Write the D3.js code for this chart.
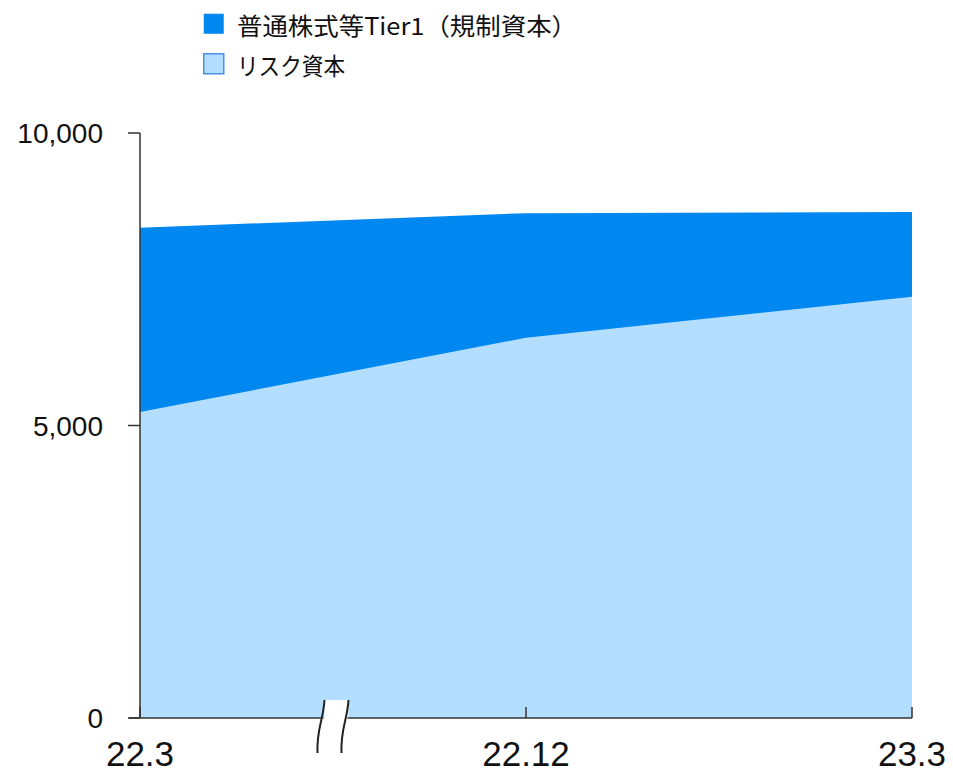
<!DOCTYPE html>
<html>
<head>
<meta charset="utf-8">
<script src="https://cdn.jsdelivr.net/npm/d3@7"></script>
<style>
body { margin: 0; background: #fff; }
svg { display: block; }
</style>
</head>
<body>
<svg id="chart"></svg>
<script>
// Periods on the x axis
var periods = ["22.3", "22.12", "23.3"];
// 普通株式等Tier1 (規制資本)
var tier1 = [8380, 8630, 8650];
// リスク資本
var riskCapital = [5230, 6500, 7200];
// y axis ticks
var yTicks = [0, 5000, 10000];

var seriesNames = ["普通株式等Tier1（規制資本）", "リスク資本"];
var seriesColors = ["#0088f0", "#b3deff"];

var screen = {width: 953, height: 772};
var margins = {top: 133, bottom: 54, left: 140, right: 41};
var graph = {
    width: screen.width - margins.left - margins.right,
    height: screen.height - margins.top - margins.bottom
};

var svg = d3.select("#chart")
    .attr("width", screen.width)
    .attr("height", screen.height);

var xScale = d3.scalePoint()
    .domain(periods)
    .range([0, graph.width])
    .padding(0);

var yScale = d3.scaleLinear()
    .domain([0, 10000])
    .range([graph.height, 0]);

var g = svg.append("g")
    .attr("transform", "translate(" + margins.left + "," + margins.top + ")");

// Draw an area from the baseline up to each value
var drawArea = function(values, color) {
    var area = d3.area()
        .x(function(d, i) { return xScale(periods[i]); })
        .y0(yScale(0))
        .y1(function(d) { return yScale(d); });
    g.append("path")
        .datum(values)
        .attr("d", area)
        .attr("fill", color);
};

drawArea(tier1, seriesColors[0]);
drawArea(riskCapital, seriesColors[1]);

// break mark between 22.3 and 22.12
var bx = xScale(periods[0]) + (xScale(periods[1]) - xScale(periods[0])) * 0.509;
var by = graph.height;
g.append("rect")
    .attr("x", bx - 12)
    .attr("y", by - 18)
    .attr("width", 24)
    .attr("height", 34)
    .attr("fill", "#fff");
[-12, 12].forEach(function(dx) {
    g.append("path")
        .attr("d", "M" + (bx + dx) + "," + (by - 18) +
            " C" + (bx + dx - 1) + "," + (by + 2) + " " +
            (bx + dx - 8) + "," + (by + 10) + " " +
            (bx + dx - 7) + "," + (by + 35))
        .attr("fill", "none")
        .attr("stroke", "#222")
        .attr("stroke-width", 2);
});

// x axis line, drawn in two pieces around the break
var axisColor = "#333";
g.append("line")
    .attr("x1", -11).attr("x2", bx - 13)
    .attr("y1", by).attr("y2", by)
    .attr("stroke", axisColor).attr("stroke-width", 1.5);
g.append("line")
    .attr("x1", bx + 11).attr("x2", graph.width)
    .attr("y1", by).attr("y2", by)
    .attr("stroke", axisColor).attr("stroke-width", 1.5);

// x ticks pointing up
g.selectAll(".xtick")
    .data(periods)
    .enter()
    .append("line")
    .attr("x1", function(d) { return xScale(d); })
    .attr("x2", function(d) { return xScale(d); })
    .attr("y1", by)
    .attr("y2", by - 11)
    .attr("stroke", axisColor)
    .attr("stroke-width", 1.5);

// x labels
g.selectAll(".xlabel")
    .data(periods)
    .enter()
    .append("text")
    .attr("x", function(d) { return xScale(d); })
    .attr("y", by + 48)
    .attr("text-anchor", "middle")
    .attr("font-family", "'Liberation Sans', Arial, sans-serif")
    .attr("font-size", 35)
    .attr("fill", "#111")
    .text(function(d) { return d; });

// y axis line
g.append("line")
    .attr("x1", 0).attr("x2", 0)
    .attr("y1", yScale(10000)).attr("y2", by)
    .attr("stroke", axisColor).attr("stroke-width", 1.5);

// y ticks and labels
var yAxisG = g.selectAll(".ytick")
    .data(yTicks)
    .enter()
    .append("g")
    .attr("transform", function(d) { return "translate(0," + yScale(d) + ")"; });
yAxisG.append("line")
    .attr("x1", -12).attr("x2", 0)
    .attr("stroke", axisColor).attr("stroke-width", 1.5);
yAxisG.append("text")
    .attr("x", -37)
    .attr("dy", "0.36em")
    .attr("text-anchor", "end")
    .attr("font-family", "'Liberation Sans', Arial, sans-serif")
    .attr("font-size", 28)
    .attr("fill", "#111")
    .text(function(d) { return d3.format(",")(d); });

// legend
var legendWidths = [340, 108];
var legend = svg.append("g")
    .attr("transform", "translate(203,13)");
var items = legend.selectAll(".item")
    .data(seriesNames)
    .enter()
    .append("g")
    .attr("transform", function(d, i) { return "translate(0," + (i * 40) + ")"; });
items.append("rect")
    .attr("x", 0.75).attr("y", 0.75)
    .attr("width", 20).attr("height", 20)
    .attr("fill", function(d, i) { return seriesColors[i]; })
    .attr("stroke", function(d, i) { return i === 1 ? "#4a90e8" : "none"; })
    .attr("stroke-width", 1.5);
items.append("text")
    .attr("x", 34)
    .attr("y", 13)
    .attr("dy", "0.36em")
    .attr("font-family", "'Noto Sans CJK JP', sans-serif")
    .attr("font-size", 24)
    .attr("textLength", function(d, i) { return legendWidths[i]; })
    .attr("lengthAdjust", "spacingAndGlyphs")
    .attr("fill", "#111")
    .text(function(d) { return d; });
</script>
</body>
</html>
